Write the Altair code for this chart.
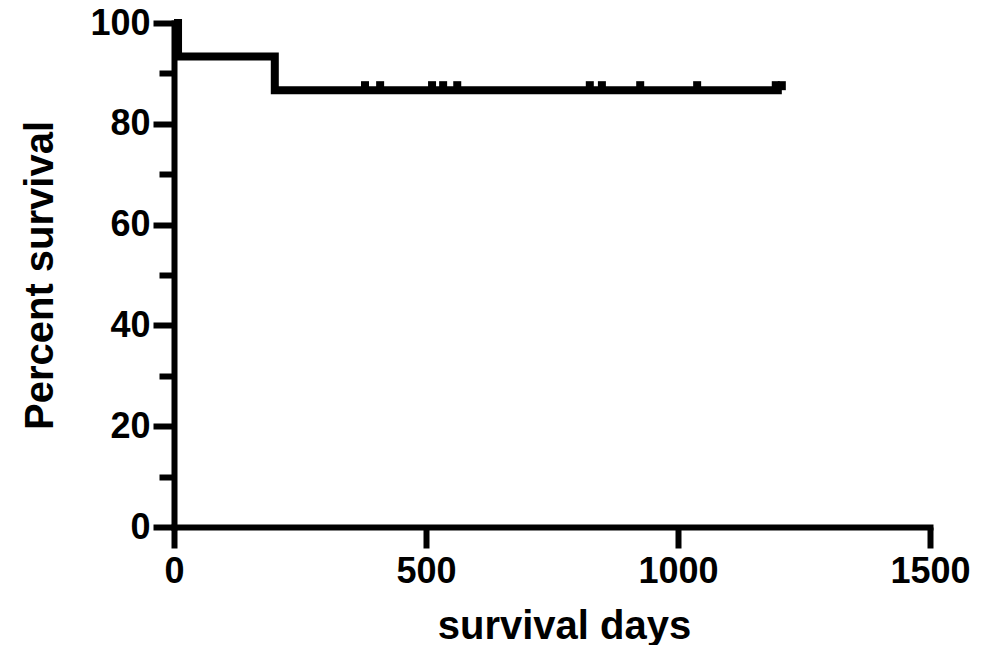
import altair as alt
import pandas as pd

# Kaplan-Meier step curve (days, percent survival)
curve_days = [0, 8, 200, 1206]
curve_surv = [100, 93.33, 86.67, 86.67]

# censored observations
censor_days = [379, 409, 512, 534, 562, 825, 849, 925, 1038, 1194, 1206]
censor_surv = [86.67] * len(censor_days)

y_tick_values = [0, 10, 20, 30, 40, 50, 60, 70, 80, 90, 100]
x_tick_values = [0, 500, 1000, 1500]

curve_df = pd.DataFrame({"days": curve_days, "surv": curve_surv})
censor_df = pd.DataFrame({"days": censor_days, "surv": censor_surv})

FONT = "Liberation Sans"

x_enc = alt.X(
    "days:Q",
    scale=alt.Scale(domain=[0, 1500], nice=False, zero=False),
    axis=alt.Axis(
        values=x_tick_values,
        title="survival days",
        titleX=390,
        titleY=111,
        titleBaseline="alphabetic",
        titleAlign="center",
        tickSize=21,
        labelPadding=6,
        labelFlush=False,
        labelOverlap=False,
        format="d",
    ),
)
y_enc = alt.Y(
    "surv:Q",
    scale=alt.Scale(domain=[0, 100], nice=False),
    axis=alt.Axis(
        values=y_tick_values,
        labelExpr="datum.value % 20 === 0 ? datum.label : ''",
        tickSize={"condition": {"test": "datum.value % 20 === 0", "value": 21}, "value": 15},
        title="Percent survival",
        titleAngle=-90,
        titleX=-122,
        titleY=252,
        titleBaseline="alphabetic",
        titleAlign="center",
        labelPadding=3,
        labelFlush=False,
        labelOverlap=False,
    ),
)

line = alt.Chart(curve_df).mark_line(
    interpolate="step-after", color="black", strokeWidth=8, strokeJoin="miter"
).encode(x=x_enc, y=y_enc)

ticks = alt.Chart(censor_df).mark_tick(
    color="black", orient="vertical", size=9, thickness=8, yOffset=-4.5, opacity=1
).encode(x="days:Q", y="surv:Q")

chart = (
    alt.layer(line, ticks)
    .properties(
        width=756,
        height=504,
        autosize=alt.AutoSizeParams(type="none"),
        padding={"left": 166, "top": 15, "right": 46, "bottom": 118},
    )
    .configure_view(stroke=None)
    .configure_axis(
        grid=False,
        domainColor="black",
        domainWidth=6,
        domainCap="square",
        tickColor="black",
        tickWidth=6,
        labelFont=FONT,
        labelFontSize=36,
        labelFontWeight="bold",
        labelColor="black",
        titleFont=FONT,
        titleFontSize=40,
        titleFontWeight="bold",
        titleColor="black",
    )
)

chart.save("out.html", embed_options={"renderer": "svg", "actions": False})
